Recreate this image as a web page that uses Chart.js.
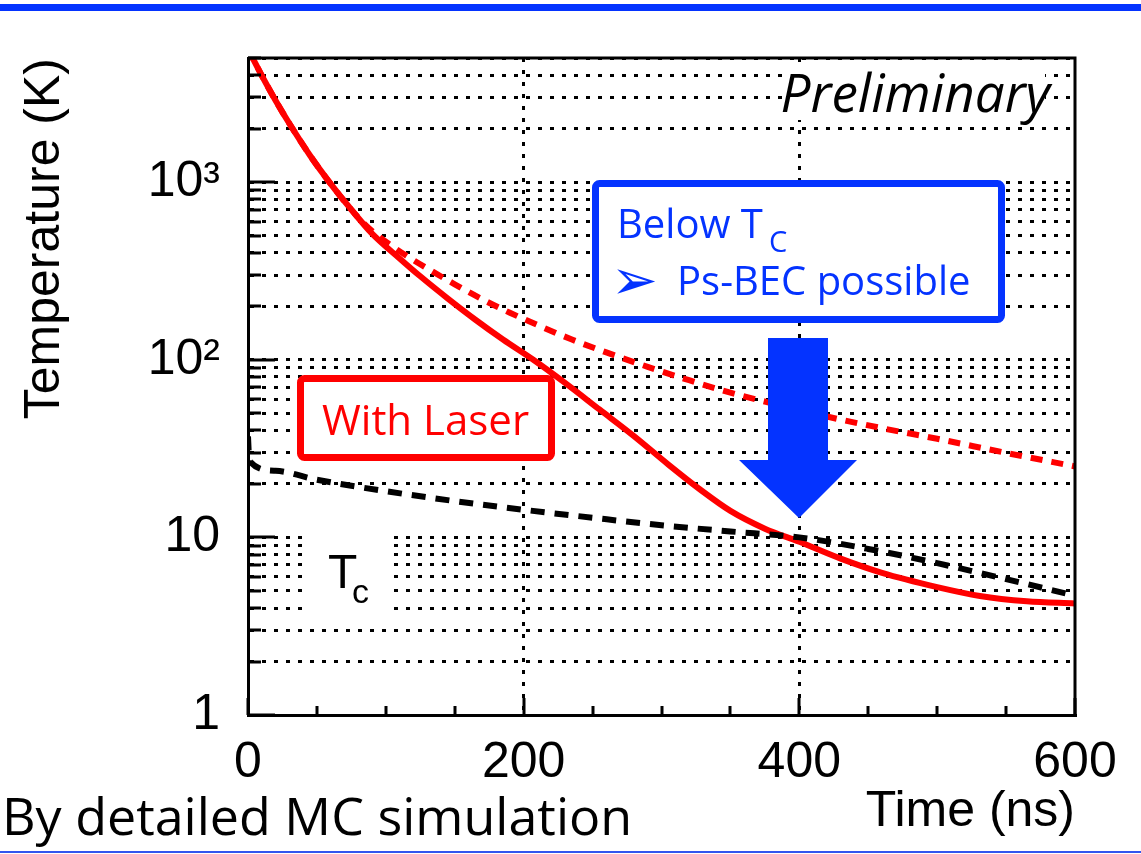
<!DOCTYPE html>
<html>
<head>
<meta charset="utf-8">
<script src="https://cdn.jsdelivr.net/npm/chart.js@4"></script>
<style>
  html, body { margin: 0; padding: 0; background: #fff; }
  #wrap { width: 1141px; height: 854px; position: relative; }
</style>
</head>
<body>
<div id="wrap"><canvas id="chart"></canvas></div>
<script>
// values: time in ns, temperature in K
const laserTime = [0, 10, 20, 30, 45, 60, 75, 90, 110, 125, 145, 165, 185, 207, 230, 255, 280, 305, 328, 350, 375, 400, 430, 460, 500, 531, 565, 600];
const laserTemp = [5623, 3981, 2884, 2138, 1413, 977, 700, 513, 372, 295, 221, 168, 130, 100, 74.1, 52.5, 37.2, 25.7, 18.6, 14.1, 11.2, 9.44, 7.59, 6.31, 5.25, 4.68, 4.37, 4.25];

const noLaserTime = [0, 10, 20, 30, 45, 60, 80, 90, 100, 115, 130, 150, 170, 190, 210, 235, 260, 290, 320, 350, 380, 420, 460, 500, 550, 600];
const noLaserTemp = [5623, 3981, 2884, 2138, 1413, 977, 631, 531, 462, 385, 327, 266, 219, 184, 157, 130, 110, 91.2, 76.7, 65.3, 56.9, 47.9, 41.2, 35.9, 29.9, 25.1];

const tcTime = [0, 1, 20, 50, 100, 150, 200, 250, 300, 350, 400, 450, 500, 550, 600];
const tcTemp = [37, 26.9, 23.7, 21.1, 18.2, 16.0, 14.3, 12.9, 11.7, 10.8, 10, 8.61, 7.16, 5.82, 4.70];

const yMajor = [1, 10, 100, 1000];
const yTickLabels = ['1', '10', '10²', '10³'];
const xTickLabels = [0, 200, 400, 600];
const xGridAt = [200, 400];

const BLUE = '#0433ff';
const RED = '#ff0000';

// grid lines at 1..9 of every decade
const yGridValues = [];
yMajor.forEach(d => {
    for (let m = 1; m <= 9; m++) {
        if (m * d <= 5000) yGridValues.push(m * d);
    }
});

function toPoints(xs, ys) {
    return xs.map((t, i) => ({ x: t, y: ys[i] }));
}

const decor = {
    id: 'decor',
    afterDatasetsDraw(chart) {
        const { ctx, chartArea: a, scales: { x, y } } = chart;
        ctx.save();

        // top and right frame
        ctx.strokeStyle = '#000';
        ctx.lineWidth = 3;
        ctx.beginPath();
        ctx.moveTo(a.left, a.top);
        ctx.lineTo(a.right, a.top);
        ctx.lineTo(a.right, a.bottom);
        ctx.stroke();

        // tick marks pointing into the plot
        ctx.beginPath();
        y.ticks.forEach(t => {
            const py = Math.round(y.getPixelForValue(t.value));
            const len = yMajor.includes(t.value) ? 27 : 13;
            ctx.moveTo(a.left, py);
            ctx.lineTo(a.left + len, py);
        });
        x.ticks.forEach(t => {
            const px = Math.round(x.getPixelForValue(t.value));
            const len = t.value % 200 === 0 ? 17 : 9;
            ctx.moveTo(px, a.bottom);
            ctx.lineTo(px, a.bottom - len);
        });
        ctx.stroke();

        // Preliminary
        ctx.fillStyle = '#fff';
        ctx.fillRect(782, 64, 263, 56);
        ctx.fillStyle = '#000';
        ctx.font = 'italic 53px "Open Sans"';
        ctx.textAlign = 'right';
        ctx.textBaseline = 'alphabetic';
        ctx.fillText('Preliminary', 1050, 112);

        // T_c label
        ctx.fillStyle = '#fff';
        ctx.fillRect(310, 525, 80, 93);
        ctx.fillStyle = '#000';
        ctx.textAlign = 'left';
        ctx.font = '48px "Liberation Sans"';
        ctx.fillText('T', 328, 588);
        ctx.font = '34px "Liberation Sans"';
        ctx.fillText('c', 352, 603);

        // With Laser box
        ctx.fillStyle = '#fff';
        ctx.strokeStyle = RED;
        ctx.lineWidth = 7;
        ctx.beginPath();
        ctx.roundRect(300.5, 378.5, 251, 79, 4);
        ctx.fill();
        ctx.stroke();
        ctx.fillStyle = RED;
        ctx.font = '42px "Open Sans"';
        ctx.fillText('With Laser', 322, 435);

        // Below Tc box
        ctx.fillStyle = '#fff';
        ctx.strokeStyle = BLUE;
        ctx.beginPath();
        ctx.roundRect(595.5, 183.5, 406, 136, 4);
        ctx.fill();
        ctx.stroke();
        ctx.fillStyle = BLUE;
        ctx.font = '40px "Open Sans"';
        ctx.fillText('Below T', 617, 238);
        ctx.font = '29px "Open Sans"';
        ctx.fillText('C', 769, 252);
        ctx.font = '56px "DejaVu Sans"';
        ctx.fillText('\u27A2', 611, 299);
        ctx.font = '40px "Open Sans"';
        ctx.fillText('Ps-BEC possible', 677, 295);

        // arrow
        ctx.beginPath();
        ctx.moveTo(768, 338);
        ctx.lineTo(828, 338);
        ctx.lineTo(828, 460);
        ctx.lineTo(857, 460);
        ctx.lineTo(799, 518);
        ctx.lineTo(739, 460);
        ctx.lineTo(768, 460);
        ctx.closePath();
        ctx.fill();

        // footnote
        ctx.fillStyle = '#000';
        ctx.font = '52px "Open Sans"';
        ctx.fillText('By detailed MC simulation', 2, 835);

        // slide rules
        ctx.fillStyle = BLUE;
        ctx.fillRect(0, 4, 1141, 7);
        ctx.fillStyle = '#3355ee';
        ctx.fillRect(0, 851, 1141, 2);

        ctx.restore();
    }
};

Chart.defaults.font.family = '"Liberation Sans", Arial, sans-serif';
Chart.defaults.color = '#000';

new Chart(document.getElementById('chart'), {
    type: 'line',
    data: {
        datasets: [
            {
                label: 'Tc',
                data: toPoints(tcTime, tcTemp),
                borderColor: '#000',
                borderWidth: 6,
                borderDash: [14, 10]
            },
            {
                label: 'With Laser',
                data: toPoints(laserTime, laserTemp),
                borderColor: RED,
                borderWidth: 6
            },
            {
                label: 'Without Laser',
                data: toPoints(noLaserTime, noLaserTemp),
                borderColor: RED,
                borderWidth: 6,
                borderDash: [12, 9]
            }
        ]
    },
    options: {
        responsive: true,
        maintainAspectRatio: false,
        animation: false,
        layout: { padding: { left: 0, right: 66, top: 55, bottom: 0 } },
        plugins: { legend: { display: false }, tooltip: { enabled: false } },
        elements: {
            point: { radius: 0 },
            line: { cubicInterpolationMode: 'monotone', fill: false }
        },
        scales: {
            x: {
                type: 'linear',
                min: 0,
                max: 600,
                afterFit: s => { s.height = 139; },
                ticks: {
                    stepSize: 50,
                    autoSkip: false,
                    maxRotation: 0,
                    padding: 18,
                    font: { size: 50 },
                    callback: v => xTickLabels.includes(v) ? String(v) : ''
                },
                grid: {
                    drawTicks: false,
                    lineWidth: 3,
                    color: c => (c.tick && xGridAt.includes(c.tick.value)) ? '#000' : 'rgba(0,0,0,0)'
                },
                border: { display: true, color: '#000', width: 3, dash: [4, 8] },
                title: {
                    display: true,
                    text: 'Time (ns)',
                    align: 'end',
                    font: { size: 50 },
                    padding: { top: 0, bottom: 12 }
                }
            },
            y: {
                type: 'logarithmic',
                min: 1,
                max: 5000,
                afterBuildTicks: s => { s.ticks = yGridValues.map(v => ({ value: v })); },
                afterFit: s => { s.width = 248; },
                ticks: {
                    autoSkip: false,
                    padding: 28,
                    font: { size: 50 },
                    callback: v => {
                        const i = yMajor.indexOf(v);
                        return i < 0 ? '' : yTickLabels[i];
                    }
                },
                grid: { drawTicks: false, lineWidth: 3, color: '#000' },
                border: { display: true, color: '#000', width: 3, dash: [4, 8] },
                title: {
                    display: true,
                    text: 'Temperature (K)',
                    align: 'end',
                    font: { size: 50 },
                    padding: { top: 15, bottom: 0 }
                }
            }
        }
    },
    plugins: [decor]
});
</script>
</body>
</html>
